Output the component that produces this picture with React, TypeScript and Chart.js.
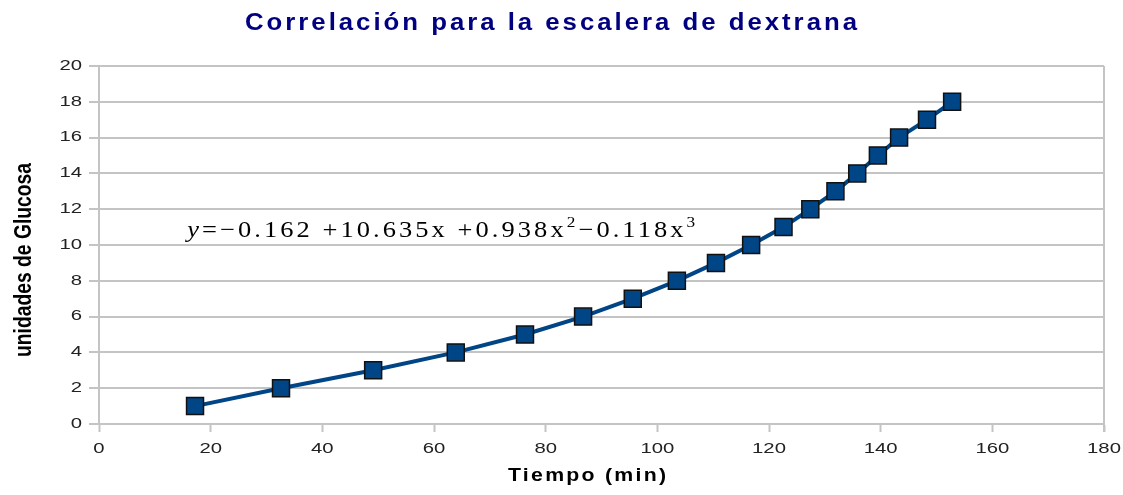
import { useEffect, useRef } from "react";
import { Chart, registerables } from "chart.js";

Chart.register(...registerables);

// ---- data ----
const tiempo = [17.2, 32.6, 49.1, 63.9, 76.3, 86.7, 95.6, 103.5, 110.5, 116.8, 122.6, 127.4, 131.9, 135.8, 139.5, 143.3, 148.3, 152.8];
const glucosa = [1, 2, 3, 4, 5, 6, 7, 8, 9, 10, 11, 12, 13, 14, 15, 16, 17, 18];
const xTickValues = [0, 20, 40, 60, 80, 100, 120, 140, 160, 180];
const yTickValues = [0, 2, 4, 6, 8, 10, 12, 14, 16, 18, 20];
const titleText = "Correlación para la escalera de dextrana";
const xTitleText = "Tiempo (min)";
const yTitleText = "unidades de Glucosa";
const equationParts = [
  { text: "y", style: "italic", sup: false },
  { text: "=−0.162 +10.635x +0.938x", style: "normal", sup: false },
  { text: "2", style: "normal", sup: true },
  { text: "−0.118x", style: "normal", sup: false },
  { text: "3", style: "normal", sup: true },
];
const equationAnchor = { x: 15.8, y: 10.45 };

const GRID = "#c4c4c4";
const SERIES = "#004586";

function fitText(
  ctx: CanvasRenderingContext2D,
  text: string,
  x: number,
  y: number,
  targetW: number,
  font: string,
  color: string,
  rotate = false
) {
  ctx.save();
  ctx.font = font;
  ctx.fillStyle = color;
  ctx.textAlign = "left";
  ctx.textBaseline = "alphabetic";
  const w = ctx.measureText(text).width;
  ctx.translate(x, y);
  if (rotate) ctx.rotate(-Math.PI / 2);
  ctx.scale(targetW / w, 1);
  ctx.fillText(text, 0, 0);
  ctx.restore();
}

function wideText(
  ctx: CanvasRenderingContext2D,
  text: string,
  x: number,
  y: number,
  targetW: number,
  font: string,
  color: string,
  stretch: number
) {
  ctx.save();
  ctx.font = font;
  ctx.fillStyle = color;
  ctx.textAlign = "left";
  ctx.textBaseline = "alphabetic";
  (ctx as any).letterSpacing = "0px";
  const w = ctx.measureText(text).width;
  const n = Math.max(1, text.length - 1);
  const sp = (targetW / stretch - w) / n;
  (ctx as any).letterSpacing = `${sp}px`;
  ctx.translate(x, y);
  ctx.scale(stretch, 1);
  ctx.fillText(text, 0, 0);
  ctx.restore();
}

const decorPlugin = {
  id: "decor",
  beforeDatasetsDraw(chart: any) {
    const { ctx, chartArea } = chart;
    ctx.save();
    ctx.strokeStyle = GRID;
    ctx.lineWidth = 2;
    ctx.beginPath();
    ctx.moveTo(chartArea.right, chartArea.top);
    ctx.lineTo(chartArea.right, chartArea.bottom + 8);
    ctx.stroke();
    ctx.restore();
  },
  afterDraw(chart: any) {
    const { ctx } = chart;
    const xs = chart.scales.x;
    const ys = chart.scales.y;
    const tickStretch = 1.45;

    // tick labels
    ctx.save();
    ctx.font = '14px "Liberation Sans", Arial, sans-serif';
    ctx.fillStyle = "#222";
    ctx.textBaseline = "middle";
    for (const v of yTickValues) {
      const label = String(v);
      const w = ctx.measureText(label).width * tickStretch;
      const py = ys.getPixelForValue(v);
      ctx.save();
      ctx.translate(82 - w, py);
      ctx.scale(tickStretch, 1);
      ctx.textAlign = "left";
      ctx.fillText(label, 0, 0);
      ctx.restore();
    }
    for (const v of xTickValues) {
      const label = String(v);
      const w = ctx.measureText(label).width * tickStretch;
      const px = xs.getPixelForValue(v);
      ctx.save();
      ctx.translate(px - w / 2, 449);
      ctx.scale(tickStretch, 1);
      ctx.textAlign = "left";
      ctx.fillText(label, 0, 0);
      ctx.restore();
    }
    ctx.restore();

    // title
    wideText(ctx, titleText, 245, 30, 612, 'bold 23px "Liberation Sans", Arial, sans-serif', "#000080", 1.12);
    // x axis title
    wideText(ctx, xTitleText, 508, 481, 158, 'bold 19px "Liberation Sans", Arial, sans-serif', "#000", 1.12);
    // y axis title
    fitText(ctx, yTitleText, 31, 357, 194, 'bold 23px "Liberation Sans Narrow", "Liberation Sans", Arial, sans-serif', "#000", true);

    // equation
    const ex = xs.getPixelForValue(equationAnchor.x);
    const ey = ys.getPixelForValue(equationAnchor.y);
    const eqStretch = 1.15;
    const fonts = equationParts.map((p) =>
      p.sup
        ? '15px "Liberation Serif", "Times New Roman", serif'
        : `${p.style === "italic" ? "italic " : ""}23px "Liberation Serif", "Times New Roman", serif`
    );
    ctx.save();
    (ctx as any).letterSpacing = "0px";
    let total = 0;
    let chars = 0;
    equationParts.forEach((p, i) => {
      ctx.font = fonts[i];
      total += ctx.measureText(p.text).width;
      chars += p.text.length;
    });
    const sp = (511 / eqStretch - total) / chars;
    (ctx as any).letterSpacing = `${sp}px`;
    ctx.fillStyle = "#000";
    ctx.textBaseline = "alphabetic";
    ctx.textAlign = "left";
    ctx.translate(ex, ey);
    ctx.scale(eqStretch, 1);
    let cx = 0;
    equationParts.forEach((p, i) => {
      ctx.font = fonts[i];
      ctx.fillText(p.text, cx, p.sup ? -10 : 0);
      cx += ctx.measureText(p.text).width;
    });
    ctx.restore();
  },
};

export default function App() {
  const canvasRef = useRef<HTMLCanvasElement | null>(null);

  useEffect(() => {
    const canvas = canvasRef.current;
    if (!canvas) return;
    const chart = new Chart(canvas, {
      type: "scatter",
      data: {
        datasets: [
          {
            data: tiempo.map((t, i) => ({ x: t, y: glucosa[i] })),
            showLine: true,
            borderColor: SERIES,
            borderWidth: 4,
            pointStyle: "rect",
            pointRadius: 12,
            pointHoverRadius: 12,
            pointBackgroundColor: SERIES,
            pointBorderColor: "#111",
            pointBorderWidth: 1.5,
            tension: 0,
          },
        ],
      },
      options: {
        responsive: false,
        animation: false,
        events: [],
        layout: { autoPadding: false, padding: { top: 66, right: 19, bottom: 0, left: 0 } },
        plugins: {
          legend: { display: false },
          tooltip: { enabled: false },
          title: { display: false },
        },
        scales: {
          x: {
            type: "linear",
            min: 0,
            max: 180,
            ticks: { display: false, stepSize: 20 },
            grid: { drawOnChartArea: false, drawTicks: true, tickLength: 8, tickColor: GRID, tickWidth: 2 },
            border: { color: GRID, width: 2 },
            afterFit: (scale: any) => {
              scale.height = 71;
            },
          },
          y: {
            type: "linear",
            min: 0,
            max: 20,
            ticks: { display: false, stepSize: 2 },
            grid: { color: GRID, lineWidth: 2, drawTicks: true, tickLength: 10, tickColor: GRID, tickWidth: 2 },
            border: { color: GRID, width: 2 },
            afterFit: (scale: any) => {
              scale.width = 99;
            },
          },
        },
      },
      plugins: [decorPlugin],
    } as any);
    return () => chart.destroy();
  }, []);

  return (
    <div style={{ position: "absolute", left: 0, top: 0, width: 1123, height: 495, background: "#fff" }}>
      <canvas ref={canvasRef} width={1123} height={495} />
    </div>
  );
}
